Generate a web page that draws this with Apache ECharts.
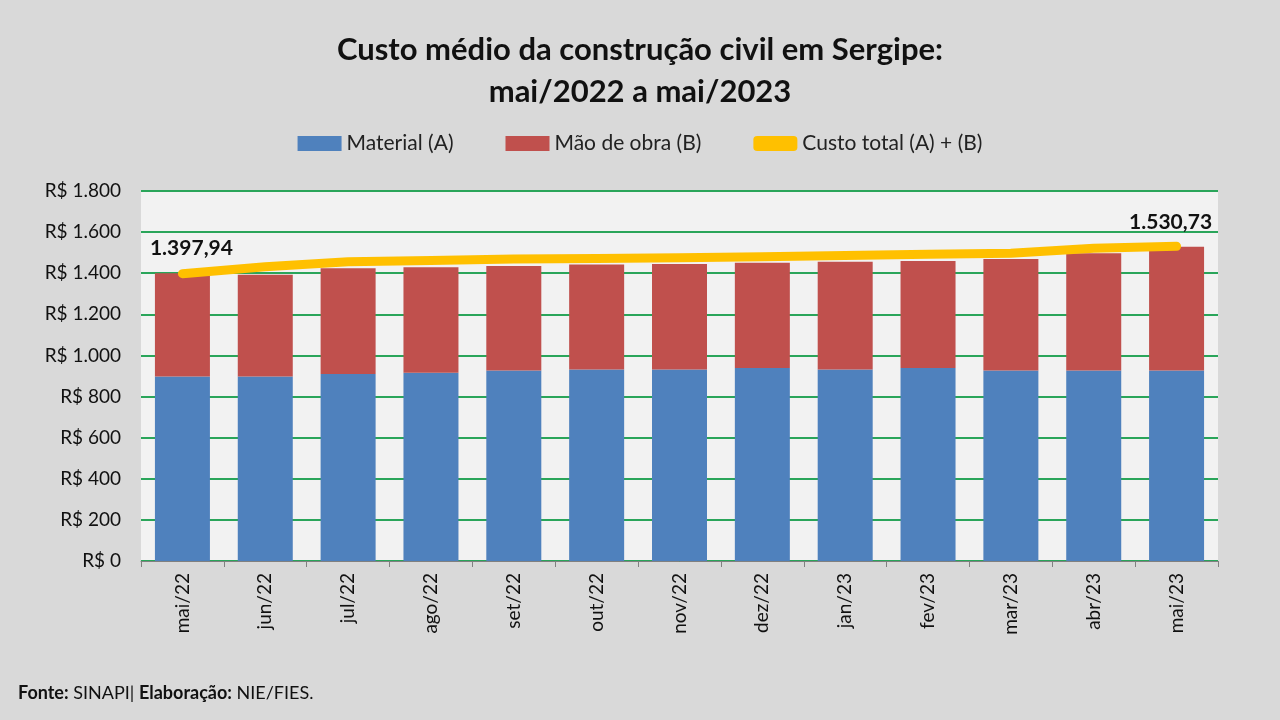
<!DOCTYPE html>
<html>
<head>
<meta charset="utf-8">
<style>
  body { margin: 0; padding: 0; background: #d9d9d9; }
  #chart { width: 1280px; height: 720px; }
</style>
</head>
<body>
<div id="chart"></div>
<script src="https://cdn.jsdelivr.net/npm/echarts@6/dist/echarts.min.js"></script>
<script>
var meses = ['mai/22', 'jun/22', 'jul/22', 'ago/22', 'set/22', 'out/22', 'nov/22',
             'dez/22', 'jan/23', 'fev/23', 'mar/23', 'abr/23', 'mai/23'];
var material = [898, 898, 910, 916, 927, 932, 932, 939, 932, 939, 927, 927, 927];
var maoDeObra = [502, 494, 514, 513, 508, 511, 513, 512, 524, 520, 542, 570, 602];
var custoTotal = [1397.94, 1432, 1456, 1462, 1469, 1472, 1475, 1480, 1486, 1492, 1497, 1521, 1530.73];

var fonte = 'Lato, "Noto Sans", sans-serif';

function brl(v, dec) {
    var parts = v.toFixed(dec).split('.');
    var inteiro = parts[0].replace(/\B(?=(\d{3})+(?!\d))/g, '.');
    return parts.length > 1 ? inteiro + ',' + parts[1] : inteiro;
}

var ultimo = custoTotal.length - 1;
var totalData = custoTotal.map(function (v, i) {
    if (i === 0) {
        return { value: v, label: { show: true, position: 'top', offset: [9, -10] } };
    }
    if (i === ultimo) {
        return { value: v, label: { show: true, position: 'top', offset: [-6, -9] } };
    }
    return v;
});

var chart = echarts.init(document.getElementById('chart'));
chart.setOption({
    backgroundColor: '#d9d9d9',
    textStyle: { fontFamily: fonte },
    title: {
        text: 'Custo médio da construção civil em Sergipe:\nmai/2022 a mai/2023',
        left: 'center',
        top: 24,
        textStyle: { fontSize: 31, fontWeight: 'bold', color: '#111', lineHeight: 42, fontFamily: fonte }
    },
    legend: {
        top: 128,
        left: 'center',
        itemGap: 52,
        itemWidth: 44,
        itemHeight: 15,
        textStyle: { fontSize: 21, color: '#222', fontFamily: fonte },
        data: [
            { name: 'Material (A)', icon: 'rect' },
            { name: 'Mão de obra (B)', icon: 'rect' },
            { name: 'Custo total (A) + (B)', icon: 'roundRect', itemStyle: { color: '#ffc000' } }
        ]
    },
    grid: {
        left: 141, right: 62, top: 191, bottom: 159,
        show: true, backgroundColor: '#f2f2f2', borderWidth: 0
    },
    xAxis: {
        type: 'category',
        data: meses,
        axisLine: { lineStyle: { color: '#808080', width: 1 } },
        axisTick: { show: true, length: 6, lineStyle: { color: '#808080' } },
        axisLabel: { rotate: 90, fontSize: 19, color: '#111', margin: 12, fontFamily: fonte }
    },
    yAxis: {
        type: 'value',
        min: 0, max: 1800, interval: 200,
        axisLine: { show: false },
        axisTick: { show: false },
        splitLine: { lineStyle: { color: '#2aa55a', width: 2 } },
        axisLabel: {
            fontSize: 19, color: '#111', margin: 20, fontFamily: fonte,
            formatter: function (v) { return 'R$ ' + brl(v, 0); }
        }
    },
    series: [
        {
            name: 'Material (A)', type: 'bar', stack: 'custo',
            data: material, barWidth: 55,
            itemStyle: { color: '#4f81bd' }
        },
        {
            name: 'Mão de obra (B)', type: 'bar', stack: 'custo',
            data: maoDeObra, barWidth: 55,
            itemStyle: { color: '#c0504d' }
        },
        {
            name: 'Custo total (A) + (B)', type: 'line',
            data: totalData,
            symbol: 'circle',
            symbolSize: 0,
            lineStyle: { color: '#ffc000', width: 9, cap: 'round', join: 'round' },
            itemStyle: { color: '#ffc000' },
            label: {
                show: false,
                fontSize: 21, fontWeight: 'bold', color: '#111', fontFamily: fonte,
                formatter: function (p) { return brl(p.value, 2); }
            },
            z: 5
        }
    ],
    graphic: [
        {
            type: 'text', left: 18, top: 684,
            style: {
                text: '{b|Fonte:} SINAPI| {b|Elaboração:} NIE/FIES.',
                fontSize: 18, fill: '#111', fontFamily: fonte,
                rich: { b: { fontSize: 18, fontWeight: 'bold', fill: '#111', fontFamily: fonte } }
            }
        }
    ]
});
</script>
</body>
</html>
